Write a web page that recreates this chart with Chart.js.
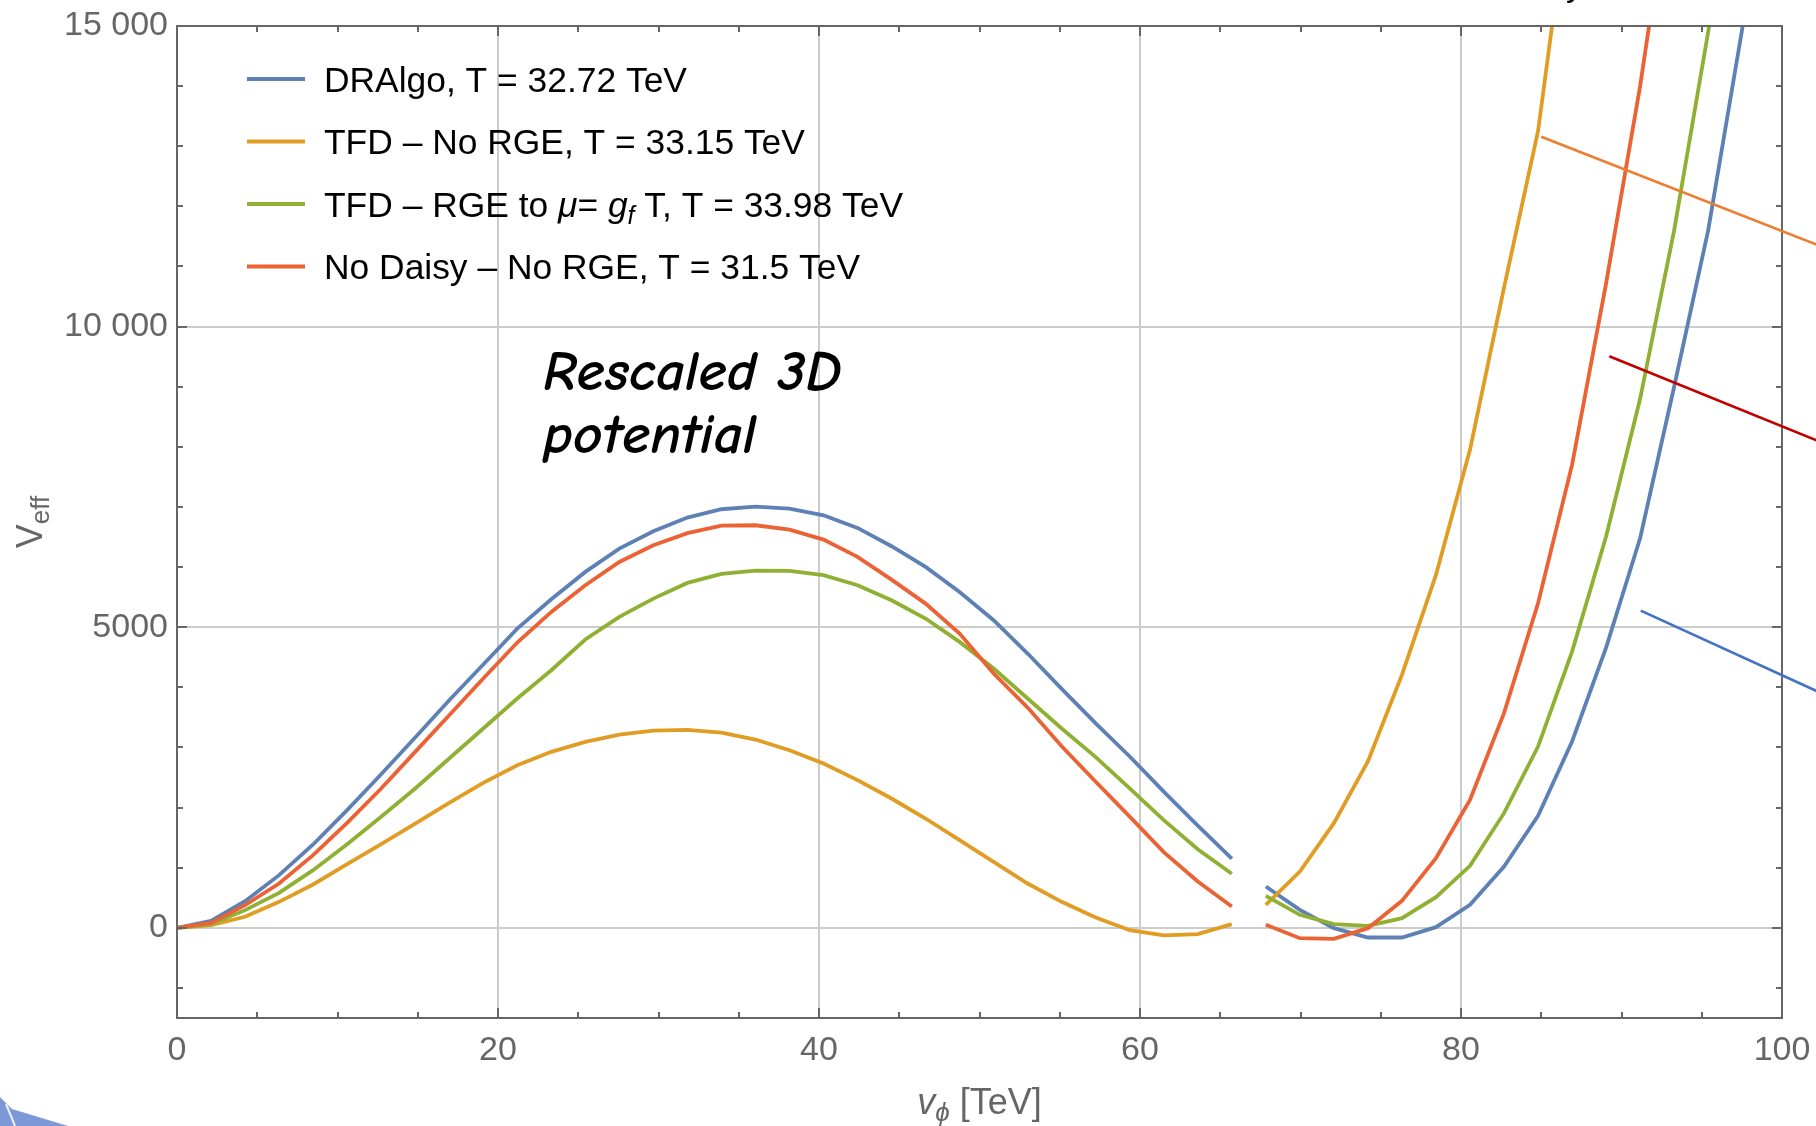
<!DOCTYPE html>
<html>
<head>
<meta charset="utf-8">
<script src="https://cdn.jsdelivr.net/npm/chart.js@4.4.1/dist/chart.umd.min.js"></script>
<style>
  html, body { margin: 0; padding: 0; background: #ffffff; }
  #wrap { width: 1816px; height: 1126px; position: relative; }
</style>
</head>
<body>
<div id="wrap"><canvas id="c" width="1816" height="1126"></canvas></div>
<script>
// Field value v_phi [TeV] at which the effective potential was evaluated
const vPhi = [
  0, 2.12, 4.24, 6.36, 8.48, 10.6, 12.72, 14.84, 16.96, 19.08,
  21.2, 23.32, 25.44, 27.56, 29.68, 31.8, 33.92, 36.04, 38.16, 40.28,
  42.4, 44.52, 46.64, 48.76, 50.88, 53, 55.12, 57.24, 59.36, 61.48,
  63.6, 65.72, 67.84, 69.96, 72.08, 74.2, 76.32, 78.44, 80.56, 82.68,
  84.8, 86.92, 89.04, 91.16, 93.28, 95.4, 97.52, 99.64
];
// last index of the low-field branch; the curve is not joined across to the next point
const branchEnd = 31;

// V_eff for each approximation (null = far above the plotted range)
const dralgo = [
  0, 116, 443, 876, 1386, 1957, 2555, 3165, 3786, 4379,
  4977, 5465, 5920, 6308, 6596, 6823, 6962, 7006, 6973, 6862,
  6652, 6347, 6003, 5587, 5116, 4562, 3975, 3400, 2850, 2265,
  1700, 1150, 687, 299, -6, -161, -161, 11, 382, 1020,
  1862, 3099, 4660, 6480, 9000, 11600, 14950, 18600
];
const tfdNoRge = [
  0, 44, 183, 432, 721, 1059, 1391, 1735, 2079, 2411,
  2705, 2927, 3093, 3215, 3280, 3292, 3248, 3132, 2954, 2733,
  2456, 2151, 1818, 1458, 1098, 737, 432, 172, -39, -127,
  -105, 61, 382, 937, 1740, 2766, 4207, 5870, 7950, 10650,
  13250, 17500, null, null, null, null, null, null
];
const tfdRge = [
  0, 61, 294, 582, 959, 1391, 1846, 2317, 2816, 3315,
  3814, 4285, 4795, 5172, 5476, 5737, 5886, 5942, 5937, 5865,
  5699, 5449, 5144, 4756, 4313, 3814, 3315, 2840, 2320, 1790,
  1308, 898, 532, 216, 61, 33, 161, 510, 1031, 1907,
  3015, 4595, 6508, 8800, 11600, 14900, 18700, null
];
const noDaisy = [
  0, 83, 377, 737, 1208, 1746, 2317, 2927, 3536, 4146,
  4745, 5255, 5698, 6086, 6363, 6565, 6690, 6696, 6624, 6458,
  6170, 5792, 5393, 4894, 4229, 3664, 3021, 2430, 1850, 1260,
  770, 355, 50, -172, -183, -6, 449, 1158, 2128, 3570,
  5399, 7699, 10720, 14000, 17800, null, null, null
];

// Legend entries, written as text runs (i = italic, sub = subscript)
const seriesNames = [
  [{ t: 'DRAlgo, T = 32.72 TeV' }],
  [{ t: 'TFD \u2013 No RGE, T = 33.15 TeV' }],
  [{ t: 'TFD \u2013 RGE to ' }, { t: '\u03bc', i: true }, { t: '= ' }, { t: 'g', i: true },
   { t: 'f', i: true, sub: true }, { t: ' T, T = 33.98 TeV' }],
  [{ t: 'No Daisy \u2013 No RGE, T = 31.5 TeV' }]
];
const seriesValues = [dralgo, tfdNoRge, tfdRge, noDaisy];
const seriesColors = ['#5E81B5', '#E19C24', '#8FB032', '#EB6235'];

// Axis ticks
const xTicks = [0, 20, 40, 60, 80, 100];
const xTickLabels = ['0', '20', '40', '60', '80', '100'];
const yTicks = [0, 5000, 10000, 15000];
const yTickLabels = ['0', '5000', '10 000', '15 000'];
const xRange = [0, 100];
const yRange = [-1500, 15000];
const xMinorStep = 5, yMinorStep = 1000;

// Call-out lines running off the right side (data coordinates)
const calloutLines = [
  { from: [85.0, 13158], to: [103, 11275], color: '#ED7D31' },
  { from: [89.24, 9506], to: [103, 8017], color: '#C00000' },
  { from: [91.2, 5276], to: [103, 3836], color: '#4472C4' }
];
// Handwritten note placed in data coordinates
const note = { lines: ['Rescaled 3D', 'potential'], at: [22.8, 8946] };

const FONT = '"Liberation Sans", Arial, Helvetica, sans-serif';
const NOTE_FONT = '"Comic Sans MS", "Comic Neue", "DejaVu Sans", sans-serif';
const GRAY = '#666666';

function drawRuns(ctx, runs, x, y, size, color) {
  let cx = x;
  for (const r of runs) {
    const s = r.sub ? Math.round(size * 0.72) : size;
    ctx.font = (r.i ? 'italic ' : '') + s + 'px ' + FONT;
    ctx.fillStyle = color;
    ctx.fillText(r.t, cx, y + (r.sub ? size * 0.2 : 0));
    cx += ctx.measureText(r.t).width;
  }
  return cx - x;
}
function runsWidth(ctx, runs, size) {
  let w = 0;
  for (const r of runs) {
    const s = r.sub ? Math.round(size * 0.72) : size;
    ctx.font = (r.i ? 'italic ' : '') + s + 'px ' + FONT;
    w += ctx.measureText(r.t).width;
  }
  return w;
}

const decorations = {
  id: 'decorations',
  afterDatasetsDraw(chart) {
    const { ctx, chartArea: a, scales: { x, y } } = chart;
    ctx.save();

    // Frame ticks, pointing inward on all four sides
    ctx.strokeStyle = GRAY;
    ctx.lineWidth = 2;
    ctx.beginPath();
    for (let v = xRange[0]; v <= xRange[1] + 1e-9; v += xMinorStep) {
      const px = Math.round(x.getPixelForValue(v));
      const len = (v % 20 === 0) ? 10 : 6;
      ctx.moveTo(px, a.bottom); ctx.lineTo(px, a.bottom - len);
      ctx.moveTo(px, a.top); ctx.lineTo(px, a.top + len);
    }
    for (let v = Math.ceil(yRange[0] / yMinorStep) * yMinorStep; v <= yRange[1] + 1e-9; v += yMinorStep) {
      const py = Math.round(y.getPixelForValue(v));
      const len = (v % 5000 === 0) ? 10 : 6;
      ctx.moveTo(a.left, py); ctx.lineTo(a.left + len, py);
      ctx.moveTo(a.right, py); ctx.lineTo(a.right - len, py);
    }
    ctx.stroke();
    ctx.strokeRect(a.left, a.top, a.right - a.left, a.bottom - a.top);

    // Legend inside the frame
    const lx0 = a.left + 70, lx1 = a.left + 128, tx = a.left + 147;
    seriesNames.forEach((runs, k) => {
      const ly = a.top + 53 + k * 62.5;
      ctx.strokeStyle = seriesColors[k];
      ctx.lineWidth = 4;
      ctx.beginPath(); ctx.moveTo(lx0, ly); ctx.lineTo(lx1, ly); ctx.stroke();
      ctx.textBaseline = 'alphabetic';
      ctx.textAlign = 'left';
      drawRuns(ctx, runs, tx, ly + 12.7, 35.4, '#000000');
    });

    // Handwritten note
    ctx.fillStyle = '#000000';
    ctx.textAlign = 'left';
    ctx.textBaseline = 'alphabetic';
    ctx.font = 'italic bold 100px ' + NOTE_FONT;
    const fit = 100 * 299 / ctx.measureText(note.lines[0]).width;
    ctx.font = 'italic bold ' + fit.toFixed(1) + 'px ' + NOTE_FONT;
    const nx = x.getPixelForValue(note.at[0]), ny = y.getPixelForValue(note.at[1]);
    note.lines.forEach((t, k) => ctx.fillText(t, nx, ny + k * 63));

    // Axis titles
    const xr = [{ t: 'v', i: true }, { t: '\u03d5', i: true, sub: true }, { t: ' [TeV]' }];
    const xw = runsWidth(ctx, xr, 36);
    drawRuns(ctx, xr, (a.left + a.right) / 2 - xw / 2, a.bottom + 96, 36, GRAY);

    const yr = [{ t: 'V' }, { t: 'eff', sub: true }];
    const yw = runsWidth(ctx, yr, 36);
    ctx.save();
    ctx.translate(42, (a.top + a.bottom) / 2);
    ctx.rotate(-Math.PI / 2);
    drawRuns(ctx, yr, -yw / 2, 0, 36, GRAY);
    ctx.restore();

    // Call-out lines
    ctx.lineWidth = 2.6;
    ctx.lineCap = 'butt';
    for (const c of calloutLines) {
      ctx.strokeStyle = c.color;
      ctx.beginPath();
      ctx.moveTo(x.getPixelForValue(c.from[0]), y.getPixelForValue(c.from[1]));
      ctx.lineTo(x.getPixelForValue(c.to[0]), y.getPixelForValue(c.to[1]));
      ctx.stroke();
    }

    // Text fragment above the frame and corner shape
    ctx.fillStyle = '#000000';
    ctx.font = '34px ' + FONT;
    ctx.fillText('y', 1566, -4);
    ctx.fillStyle = '#7D98D6';
    ctx.beginPath();
    ctx.moveTo(0, 1097); ctx.lineTo(12, 1109); ctx.lineTo(68, 1126); ctx.lineTo(0, 1126);
    ctx.closePath(); ctx.fill();
    ctx.strokeStyle = 'rgba(255,255,255,0.85)';
    ctx.lineWidth = 2;
    ctx.beginPath(); ctx.moveTo(6, 1104); ctx.lineTo(15, 1126); ctx.stroke();

    ctx.restore();
  }
};

const datasets = seriesValues.map((vals, k) => ({
  label: seriesNames[k].map(r => r.t).join(''),
  data: vPhi.map((v, i) => ({ x: v, y: vals[i] })),
  borderColor: seriesColors[k],
  borderWidth: 3.8,
  pointRadius: 0,
  tension: 0,
  spanGaps: false,
  clip: 0,
  order: seriesValues.length - k,
  segment: {
    borderColor: c => (c.p0DataIndex === branchEnd ? 'rgba(0,0,0,0)' : undefined)
  }
}));

new Chart(document.getElementById('c'), {
  type: 'line',
  data: { datasets },
  options: {
    responsive: false,
    animation: false,
    devicePixelRatio: 1,
    layout: { padding: { top: 26, right: 34, left: 0, bottom: 0 } },
    plugins: { legend: { display: false }, tooltip: { enabled: false } },
    scales: {
      x: {
        type: 'linear', min: xRange[0], max: xRange[1],
        afterBuildTicks: s => { s.ticks = xTicks.map(v => ({ value: v })); },
        afterFit: s => { s.height = 108; s.paddingLeft = 0; s.paddingRight = 0; },
        grid: { color: '#cccccc', lineWidth: 2, drawTicks: false },
        border: { display: false },
        ticks: {
          font: { family: FONT, size: 34 }, color: GRAY, padding: 12,
          maxRotation: 0, autoSkip: false,
          callback: (v, i) => xTickLabels[i]
        }
      },
      y: {
        type: 'linear', min: yRange[0], max: yRange[1],
        afterBuildTicks: s => { s.ticks = yTicks.map(v => ({ value: v })); },
        afterFit: s => { s.width = 177; s.paddingTop = 0; s.paddingBottom = 0; },
        grid: { color: '#cccccc', lineWidth: 2, drawTicks: false },
        border: { display: false },
        ticks: {
          font: { family: FONT, size: 34 }, color: GRAY, padding: 9,
          autoSkip: false,
          callback: (v, i) => yTickLabels[i]
        }
      }
    }
  },
  plugins: [decorations]
});
</script>
</body>
</html>
